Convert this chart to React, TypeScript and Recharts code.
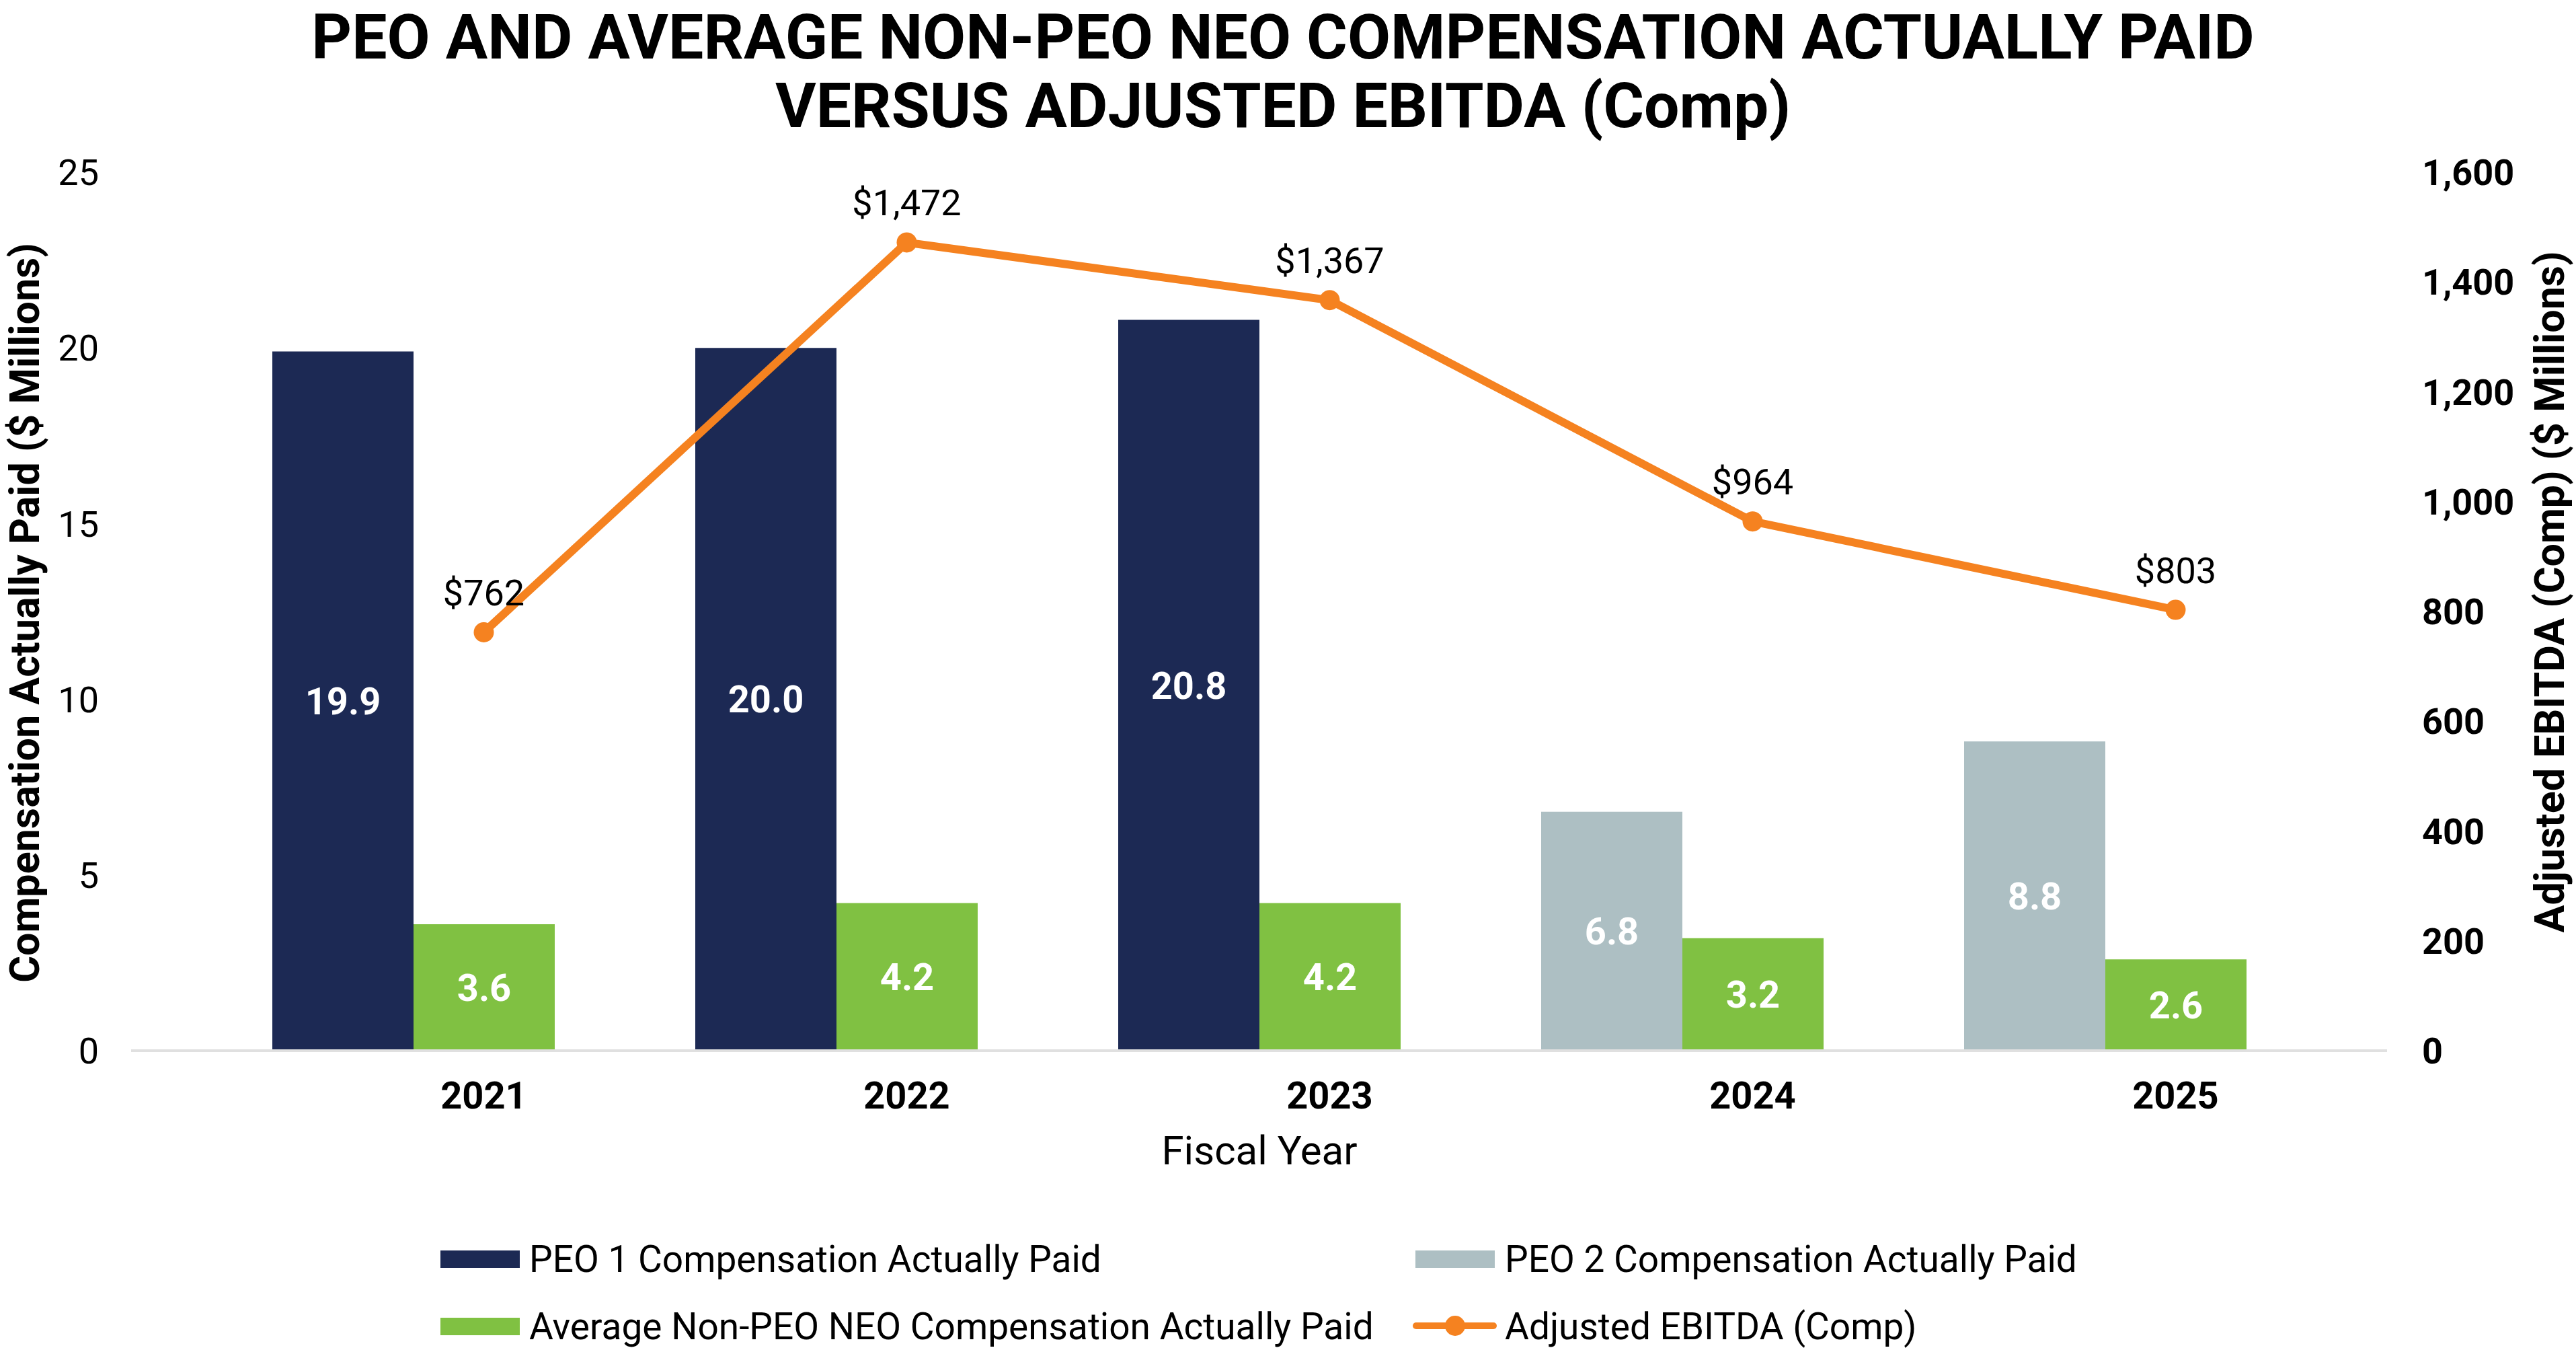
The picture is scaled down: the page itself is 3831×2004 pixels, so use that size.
import React from 'react';
import { ComposedChart, Bar, Line, XAxis, YAxis, LabelList } from 'recharts';

const years = ['2021', '2022', '2023', '2024', '2025'];
const peo1Values = [19.9, 20.0, 20.8, null, null];
const peo2Values = [null, null, null, 6.8, 8.8];
const neoValues = [3.6, 4.2, 4.2, 3.2, 2.6];
const spacerValues = [null, null, null, null, null];
const ebitdaValues = [762, 1472, 1367, 964, 803];
const leftTicks = [0, 5, 10, 15, 20, 25];
const rightTicks = [0, 200, 400, 600, 800, 1000, 1200, 1400, 1600];

const NAVY = '#1C2954';
const GRAY = '#ADBFC3';
const GREEN = '#80C142';
const ORANGE = '#F58220';
const FONT = 'Roboto, "Open Sans", sans-serif';

const data = years.map((year, i) => ({
  year,
  peo1: peo1Values[i],
  peo2: peo2Values[i],
  neo: neoValues[i],
  spacer: spacerValues[i],
  ebitda: ebitdaValues[i],
}));

const barLabel = (v: any) => (v === null || v === undefined ? '' : Number(v).toFixed(1));
const dollarLabel = (v: any) => '$' + Number(v).toLocaleString('en-US');

const legendText: React.CSSProperties = {
  position: 'absolute',
  fontSize: 55,
  lineHeight: '55px',
  fontFamily: FONT,
  color: '#000',
  whiteSpace: 'nowrap',
};

const titleLine: React.CSSProperties = {
  position: 'absolute',
  left: 0,
  width: 3816,
  textAlign: 'center',
  fontSize: 93,
  lineHeight: '110px',
  fontWeight: 700,
  color: '#000',
  whiteSpace: 'nowrap',
};

const rotatedTitle: React.CSSProperties = {
  position: 'absolute',
  left: 0,
  top: 0,
  transform: 'translate(-50%, -50%) rotate(-90deg)',
  whiteSpace: 'nowrap',
  fontSize: 61,
  lineHeight: '72px',
  fontWeight: 700,
  color: '#000',
};

export default function App() {
  return (
    <div
      style={{
        position: 'absolute',
        left: 0,
        top: 0,
        width: 3831,
        height: 2004,
        background: '#fff',
        fontFamily: FONT,
        overflow: 'hidden',
      }}
    >
      <div style={{ ...titleLine, top: 1 }}>PEO AND AVERAGE NON-PEO NEO COMPENSATION ACTUALLY PAID</div>
      <div style={{ ...titleLine, top: 103 }}>VERSUS ADJUSTED EBITDA (Comp)</div>

      <ComposedChart
        width={3831}
        height={2004}
        data={data}
        margin={{ top: 256, right: 0, bottom: 342, left: 0 }}
        barCategoryGap={0}
        barGap={0}
      >
        <XAxis
          dataKey="year"
          height={100}
          padding={{ left: 210, right: 0 }}
          axisLine={{ stroke: '#E0E0E0', strokeWidth: 4 }}
          tickLine={false}
          tickSize={0}
          tickMargin={46}
          interval={0}
          tick={{ fill: '#000', fontSize: 56, fontWeight: 700, fontFamily: FONT }}
        />
        <YAxis
          yAxisId="left"
          width={195}
          domain={[0, 25]}
          ticks={leftTicks}
          interval={0}
          axisLine={false}
          tickLine={false}
          tickSize={0}
          tickMargin={48}
          tick={{ fill: '#000', fontSize: 54, fontFamily: FONT }}
        />
        <YAxis
          yAxisId="right"
          orientation="right"
          width={281}
          domain={[0, 1600]}
          ticks={rightTicks}
          interval={0}
          axisLine={false}
          tickLine={false}
          tickSize={0}
          tickMargin={52}
          tickFormatter={(v: number) => v.toLocaleString('en-US')}
          tick={{ fill: '#000', fontSize: 54, fontWeight: 700, fontFamily: FONT }}
        />
        <Bar yAxisId="left" dataKey="peo1" stackId="peo" fill={NAVY} isAnimationActive={false}>
          <LabelList dataKey="peo1" position="center" formatter={barLabel} fill="#fff" fontSize={56} fontWeight={700} fontFamily={FONT} />
        </Bar>
        <Bar yAxisId="left" dataKey="peo2" stackId="peo" fill={GRAY} isAnimationActive={false}>
          <LabelList dataKey="peo2" position="center" formatter={barLabel} fill="#fff" fontSize={56} fontWeight={700} fontFamily={FONT} />
        </Bar>
        <Bar yAxisId="left" dataKey="neo" fill={GREEN} isAnimationActive={false}>
          <LabelList dataKey="neo" position="center" formatter={barLabel} fill="#fff" fontSize={56} fontWeight={700} fontFamily={FONT} />
        </Bar>
        <Bar yAxisId="left" dataKey="spacer" fill="none" isAnimationActive={false} />
        <Line
          yAxisId="right"
          dataKey="ebitda"
          stroke={ORANGE}
          strokeWidth={12}
          dot={{ r: 15, fill: ORANGE, stroke: ORANGE, strokeWidth: 0 }}
          activeDot={false}
          isAnimationActive={false}
        >
          <LabelList dataKey="ebitda" position="top" offset={40} formatter={dollarLabel} fill="#000" fontSize={54} fontFamily={FONT} />
        </Line>
      </ComposedChart>

      <div style={{ position: 'absolute', left: 37, top: 911, width: 0, height: 0 }}>
        <div style={rotatedTitle}>Compensation Actually Paid ($ Millions)</div>
      </div>
      <div style={{ position: 'absolute', left: 3792, top: 880, width: 0, height: 0 }}>
        <div style={rotatedTitle}>Adjusted EBITDA (Comp) ($ Millions)</div>
      </div>

      <div
        style={{
          position: 'absolute',
          left: 1373,
          top: 1681,
          width: 1000,
          textAlign: 'center',
          fontSize: 60,
          lineHeight: '60px',
          color: '#000',
        }}
      >
        Fiscal Year
      </div>

      <div style={{ position: 'absolute', left: 655, top: 1859, width: 118, height: 26, background: NAVY }} />
      <div style={{ ...legendText, left: 787, top: 1845 }}>PEO 1 Compensation Actually Paid</div>
      <div style={{ position: 'absolute', left: 2105, top: 1859, width: 118, height: 26, background: GRAY }} />
      <div style={{ ...legendText, left: 2238, top: 1845 }}>PEO 2 Compensation Actually Paid</div>
      <div style={{ position: 'absolute', left: 655, top: 1959, width: 118, height: 26, background: GREEN }} />
      <div style={{ ...legendText, left: 787, top: 1945 }}>Average Non-PEO NEO Compensation Actually Paid</div>
      <div style={{ position: 'absolute', left: 2101, top: 1966, width: 125, height: 10, background: ORANGE, borderRadius: 5 }} />
      <div style={{ position: 'absolute', left: 2149, top: 1956, width: 30, height: 30, background: ORANGE, borderRadius: '50%' }} />
      <div style={{ ...legendText, left: 2238, top: 1945 }}>Adjusted EBITDA (Comp)</div>
    </div>
  );
}
